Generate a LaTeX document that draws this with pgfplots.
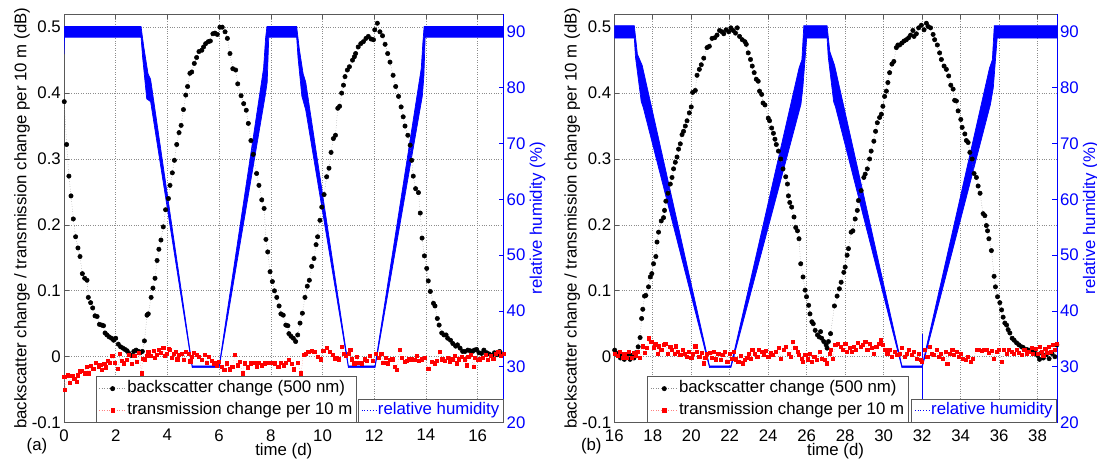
\documentclass[border=0pt]{standalone}
\usepackage{fontspec}
\setmainfont{Liberation Sans}
\usepackage{pgfplots}
\pgfplotsset{compat=1.18}
\newcommand{\fs}{\fontsize{16.8}{20}\selectfont}
\definecolor{hblue}{RGB}{0,0,255}
\pgfplotsset{
  panel/.style={scale only axis, height=408.6pt, anchor=south west,
    /pgf/number format/assume math mode=true,
    tick label style={font=\fs},
    tick align=inside, major tick length=5pt},
  leftax/.style={panel, ymin=-0.1, ymax=0.52},
  rightax/.style={panel, ymin=20, ymax=93.2},
  gridax/.style={leftax, ytick={-0.1,0,0.1,0.2,0.3,0.4,0.5}, yticklabels={-0.1,0,0.1,0.2,0.3,0.4,0.5},
    xtick pos=both, ytick pos=left, grid=major, grid style={dotted, black!45, line width=0.6pt},
    axis line style={black!65, line width=0.6pt}, tick style={black!65, line width=0.6pt},
    xticklabel style={inner sep=0pt, yshift=-6.5pt}, yticklabel style={inner sep=0pt, xshift=-3pt},
    xlabel={time (d)}, ylabel={backscatter change / transmission change per 10 m (dB)},
    every axis x label/.style={at={(axis description cs:0.5,0)}, anchor=base, yshift=-33pt, font=\fs},
    every axis y label/.style={at={(axis description cs:0,0.5)}, anchor=center, rotate=90, yshift=42pt, font=\fs}},
  humax/.style={rightax, axis x line=none, axis y line*=right, ytick={20,30,40,50,60,70,80,90},
    y axis line style={hblue, line width=0.6pt}, ytick style={hblue, line width=0.6pt},
    yticklabel style={text=hblue, inner sep=0pt, xshift=3pt},
    ylabel={relative humidity (\%)},
    every axis y label/.style={at={(axis description cs:1,0.5)}, anchor=center, rotate=90, yshift=-34pt, text=hblue, font=\fs},
    legend style={at={(1,0)}, anchor=south east, draw=black!65, fill=white, font=\fs,
      inner xsep=3pt, inner ysep=3pt, nodes={inner sep=1pt, text height=12pt, text depth=3.5pt, text=hblue}},
    legend cell align=left,
    legend image code/.code={\draw[##1] (0pt,0pt) -- (15pt,0pt);}},
  ptax/.style={leftax, hide axis, clip=false,
    legend style={anchor=south west, draw=black!65, fill=white, font=\fs, row sep=4pt,
      inner xsep=3pt, inner ysep=3.5pt, nodes={inner sep=1pt, text height=12pt, text depth=3.5pt}},
    legend cell align=left,
    legend image code/.code={\draw[mark repeat=2, mark phase=2, ##1] plot coordinates {(0pt,0pt) (13.5pt,0pt) (27pt,0pt)};}},
  bsc/.style={black!45, dotted, line width=0.5pt, mark=*, mark size=2.2pt, mark options={solid, draw=black, fill=black}},
  trn/.style={red!50, dotted, line width=0.5pt, mark=square*, mark size=1.6pt, mark options={solid, draw=red, fill=red}},
  hum/.style={draw=hblue, fill=hblue, line width=0.7pt, forget plot}
}
\begin{document}
\begin{tikzpicture}
\useasboundingbox (-64pt,-36.4pt) rectangle (1033pt,422.6pt);
% ================= panel (a) =================
\begin{axis}[gridax, at={(0pt,0pt)}, width=439.5pt, xmin=0, xmax=17, xtick={0,2,...,16}]
\end{axis}
\begin{axis}[humax, at={(0pt,0pt)}, width=439.5pt, xmin=0, xmax=17]
\addplot[hum] coordinates {
(0,86) (0.02,90.95) (2.98,90.95) (3.08,87.5) (3.25,82.5) (3.35,81.5) (4.96,30.15) (6.0,30.15)
(7.72,83.5) (7.80,89) (7.85,90.95) (9.0,90.95) (9.1,87) (9.25,82.5) (9.35,81) (11.0,30.15) (12.03,30.15)
(13.82,83.5) (13.88,88) (13.93,90.95) (17,90.95)
(17,89.05) (13.97,89.05) (13.92,82) (13.86,78.5) (12.03,29.85) (11.0,29.85) (9.35,76) (9.2,78.5)
(9.05,85.5) (9.0,89.05) (7.92,89.05) (7.86,81) (7.78,78.5) (6.0,29.85) (4.96,29.85) (3.35,77.5)
(3.2,78) (3.04,85.5) (2.98,89.05) (0.02,89.05)
} -- cycle;
\addlegendimage{hblue, dotted, line width=0.8pt}
\addlegendentry{relative humidity}
\end{axis}
\begin{axis}[ptax, at={(0pt,0pt)}, width=439.5pt, xmin=0, xmax=17, legend style={at={(0.0721,0)}}]
\addplot[bsc] coordinates {
(0.01,0.387) (0.10,0.322) (0.19,0.274) (0.27,0.244) (0.36,0.209) (0.45,0.182) (0.54,0.165) (0.62,0.152)
(0.71,0.126) (0.80,0.119) (0.89,0.116) (0.94,0.090) (1.03,0.082) (1.11,0.074) (1.20,0.062) (1.28,0.061)
(1.37,0.049) (1.46,0.048) (1.53,0.047) (1.59,0.036) (1.66,0.033) (1.75,0.030) (1.84,0.028) (1.92,0.025)
(2.00,0.028) (2.10,0.019) (2.19,0.015) (2.28,0.013) (2.36,0.011) (2.44,0.009) (2.51,0.005) (2.60,0.002)
(2.70,0.008) (2.79,0.010) (2.88,0.008) (2.95,0.006) (3.03,0.008) (3.11,0.024) (3.21,0.063) (3.26,0.065)
(3.37,0.090) (3.44,0.104) (3.52,0.119) (3.60,0.146) (3.67,0.163) (3.75,0.177) (3.84,0.197) (3.93,0.223)
(4.04,0.240) (4.10,0.260) (4.19,0.279) (4.27,0.298) (4.36,0.322) (4.45,0.340) (4.53,0.351) (4.62,0.375)
(4.71,0.397) (4.78,0.410) (4.87,0.430) (4.94,0.432) (5.04,0.445) (5.13,0.454) (5.22,0.463) (5.33,0.465)
(5.40,0.470) (5.48,0.475) (5.58,0.478) (5.66,0.479) (5.76,0.490) (5.84,0.491) (5.93,0.489) (6.03,0.500)
(6.12,0.500) (6.23,0.493) (6.32,0.483) (6.42,0.460) (6.53,0.437) (6.64,0.435) (6.72,0.414) (6.85,0.396)
(6.95,0.384) (7.05,0.374) (7.13,0.354) (7.23,0.328) (7.32,0.307) (7.45,0.278) (7.54,0.260) (7.65,0.238)
(7.74,0.225) (7.81,0.178) (7.88,0.159) (7.97,0.129) (8.06,0.114) (8.14,0.100) (8.23,0.090) (8.32,0.077)
(8.39,0.065) (8.48,0.063) (8.58,0.048) (8.66,0.047) (8.70,0.035) (8.78,0.031) (8.87,0.028) (8.96,0.023)
(9.04,0.033) (9.13,0.051) (9.22,0.066) (9.32,0.090) (9.41,0.107) (9.49,0.116) (9.58,0.137) (9.67,0.149)
(9.75,0.170) (9.81,0.182) (9.90,0.207) (9.97,0.227) (10.06,0.246) (10.16,0.273) (10.25,0.286) (10.33,0.310)
(10.42,0.331) (10.50,0.336) (10.59,0.377) (10.66,0.380) (10.74,0.400) (10.81,0.412) (10.87,0.425) (10.96,0.435)
(11.04,0.440) (11.16,0.450) (11.23,0.455) (11.28,0.460) (11.38,0.470) (11.48,0.475) (11.58,0.478) (11.68,0.483)
(11.77,0.486) (11.88,0.482) (11.97,0.481) (12.02,0.496) (12.12,0.506) (12.22,0.493) (12.32,0.487) (12.42,0.474)
(12.52,0.460) (12.61,0.447) (12.73,0.427) (12.83,0.410) (12.94,0.395) (13.04,0.379) (13.12,0.364) (13.19,0.350)
(13.30,0.336) (13.39,0.321) (13.45,0.298) (13.51,0.274) (13.60,0.255) (13.71,0.249) (13.78,0.218) (13.85,0.180)
(13.94,0.153) (14.03,0.134) (14.09,0.115) (14.17,0.099) (14.29,0.081) (14.35,0.077) (14.44,0.058) (14.51,0.048)
(14.61,0.036) (14.70,0.033) (14.78,0.033) (14.84,0.028) (14.95,0.025) (15.04,0.020) (15.15,0.016) (15.22,0.018)
(15.32,0.013) (15.42,0.008) (15.51,0.008) (15.62,0.010) (15.71,0.009) (15.80,0.008) (15.87,0.010) (15.96,0.011)
(16.05,0.006) (16.15,0.005) (16.24,0.010) (16.35,0.006) (16.45,0.004) (16.55,0.002) (16.65,0.006) (16.75,0.003)
(16.85,0.008) (16.95,0.004)
};
\addlegendentry{backscatter change (500 nm)}
\addplot[trn] coordinates {
(0.01,-0.031) (0.04,-0.050) (0.14,-0.028) (0.23,-0.039) (0.32,-0.029) (0.40,-0.033) (0.49,-0.038) (0.53,-0.028)
(0.60,-0.022) (0.68,-0.021) (0.79,-0.025) (0.88,-0.015) (0.94,-0.025) (1.04,-0.014) (1.13,-0.018) (1.23,-0.009)
(1.33,-0.015) (1.40,-0.012) (1.46,-0.020) (1.56,-0.011) (1.62,-0.016) (1.69,-0.006) (1.78,-0.009) (1.87,0.001)
(1.97,-0.009) (2.08,-0.018) (2.17,0.004) (2.23,-0.006) (2.30,-0.010) (2.42,-0.005) (2.51,0.003) (2.62,-0.011)
(2.72,0.001) (2.81,-0.008) (2.90,0.006) (3.00,-0.025) (3.05,-0.003) (3.13,-0.004) (3.20,0.002) (3.26,0.008)
(3.37,0.001) (3.46,0.009) (3.52,-0.002) (3.58,0.003) (3.66,0.010) (3.75,0.006) (3.84,0.013) (3.90,0.002)
(3.97,0.004) (4.04,0.012) (4.10,0.010) (4.17,-0.002) (4.23,0.005) (4.32,0.008) (4.38,-0.004) (4.45,0.003)
(4.55,0.005) (4.62,-0.005) (4.71,0.008) (4.81,0.005) (4.88,-0.007) (4.94,0.000) (5.03,0.006) (5.13,0.003)
(5.22,0.000) (5.32,-0.005) (5.43,0.003) (5.52,-0.009) (5.61,0.000) (5.71,-0.006) (5.81,-0.010) (5.91,-0.013)
(6.00,-0.008) (6.10,-0.015) (6.20,-0.020) (6.29,-0.010) (6.42,-0.019) (6.51,-0.015) (6.62,0.003) (6.72,-0.013)
(6.81,-0.008) (6.90,-0.025) (7.00,-0.010) (7.10,-0.016) (7.23,-0.010) (7.36,-0.009) (7.45,-0.015) (7.54,-0.009)
(7.65,-0.013) (7.78,-0.010) (7.88,-0.009) (8.03,-0.009) (8.16,-0.010) (8.29,-0.015) (8.39,-0.009) (8.49,-0.013)
(8.58,-0.009) (8.68,-0.005) (8.81,-0.011) (8.90,-0.019) (9.04,-0.009) (9.17,-0.025) (9.26,0.003) (9.35,0.005)
(9.45,0.008) (9.58,0.009) (9.68,0.008) (9.83,0.000) (9.94,-0.004) (10.03,0.009) (10.16,0.013) (10.27,0.008)
(10.38,0.003) (10.48,-0.003) (10.55,-0.001) (10.64,-0.004) (10.74,0.015) (10.81,0.005) (10.90,0.001) (11.00,0.005)
(11.07,0.010) (11.13,-0.004) (11.23,-0.010) (11.32,0.000) (11.39,-0.009) (11.52,-0.010) (11.62,-0.004) (11.71,-0.006)
(11.84,0.001) (11.93,-0.006) (12.06,0.005) (12.16,-0.001) (12.27,0.005) (12.35,-0.009) (12.45,-0.001) (12.53,-0.010)
(12.61,-0.005) (12.70,-0.004) (12.80,-0.015) (12.87,-0.020) (13.00,0.011) (13.06,-0.001) (13.17,-0.008) (13.26,-0.006)
(13.35,-0.004) (13.45,-0.004) (13.55,-0.005) (13.64,0.001) (13.73,-0.006) (13.84,-0.004) (13.94,-0.001) (14.09,-0.018)
(14.22,-0.008) (14.33,-0.010) (14.42,-0.006) (14.54,0.008) (14.63,-0.004) (14.74,-0.006) (14.84,-0.001) (14.93,-0.008)
(15.02,-0.004) (15.10,0.001) (15.19,-0.010) (15.28,-0.004) (15.38,0.000) (15.49,-0.004) (15.58,-0.013) (15.64,0.000)
(15.74,0.003) (15.84,-0.015) (15.90,-0.001) (16.00,-0.005) (16.09,-0.004) (16.20,-0.002) (16.30,0.003) (16.40,-0.005)
(16.50,0.002) (16.60,-0.003) (16.70,0.005) (16.80,0.008) (16.90,0.002) (17.00,0.005)
};
\addlegendentry{transmission change per 10 m}
\end{axis}
% ================= panel (b) =================
\begin{axis}[gridax, at={(550.3pt,0pt)}, width=442.5pt, xmin=16, xmax=39, xtick={16,18,...,38}]
\end{axis}
\begin{axis}[humax, at={(550.3pt,0pt)}, width=442.5pt, xmin=16, xmax=39]
\addplot[hum] coordinates {
(16,91.1) (17.04,91.1) (17.2,86) (17.45,84) (20.95,30.15) (22.06,30.15) (25.6,83.5) (25.75,85) (25.85,91.1)
(27.06,91.1) (27.2,86.5) (27.45,84) (30.95,30.15) (32.0,30.15) (35.5,83.5) (35.65,85) (35.75,91.1) (39,91.1)
(39,88.9) (35.9,88.9) (35.7,80) (35.55,77) (32.0,29.85) (30.95,29.85) (27.5,76.5) (27.4,77.5) (27.12,85.5)
(27.06,88.9) (26.0,88.9) (25.8,80) (25.7,77) (22.06,29.85) (20.95,29.85) (17.5,76.5) (17.4,77.5) (17.1,85.5)
(17.04,88.9) (16,88.9)
} -- cycle;
\addplot[hblue, line width=0.5pt, forget plot] coordinates {(32.0,24.3) (32.0,35.8)};
\addlegendimage{hblue, dotted, line width=0.8pt}
\addlegendentry{relative humidity}
\end{axis}
\begin{axis}[ptax, at={(550.3pt,0pt)}, width=442.5pt, xmin=16, xmax=39, legend style={at={(0.0746,0)}}]
\addplot[bsc] coordinates {
(16.02,0.010) (16.12,0.005) (16.22,0.003) (16.32,-0.002) (16.42,0.002) (16.52,-0.004) (16.62,-0.001) (16.72,0.004)
(16.82,-0.004) (16.92,0.002) (17.02,-0.002) (17.12,0.006) (17.24,0.015) (17.34,0.029) (17.42,0.058) (17.48,0.072)
(17.57,0.092) (17.64,0.093) (17.78,0.106) (17.87,0.121) (17.95,0.126) (18.04,0.141) (18.16,0.152) (18.22,0.174)
(18.30,0.189) (18.44,0.206) (18.56,0.211) (18.61,0.222) (18.68,0.236) (18.79,0.248) (18.91,0.262) (19.00,0.272)
(19.08,0.285) (19.17,0.295) (19.26,0.303) (19.34,0.315) (19.43,0.323) (19.52,0.337) (19.60,0.342) (19.69,0.350)
(19.78,0.358) (19.90,0.370) (20.00,0.379) (20.07,0.401) (20.21,0.404) (20.30,0.427) (20.42,0.436) (20.52,0.443)
(20.65,0.453) (20.82,0.469) (20.94,0.471) (21.08,0.483) (21.22,0.484) (21.34,0.488) (21.47,0.495) (21.60,0.493)
(21.69,0.490) (21.81,0.496) (21.95,0.493) (22.06,0.499) (22.18,0.495) (22.30,0.491) (22.39,0.499) (22.51,0.486)
(22.65,0.481) (22.79,0.478) (22.86,0.474) (22.96,0.461) (23.08,0.451) (23.17,0.441) (23.27,0.431) (23.38,0.421)
(23.48,0.418) (23.55,0.403) (23.66,0.398) (23.73,0.385) (23.83,0.382) (24.00,0.362) (24.07,0.358) (24.18,0.347)
(24.27,0.339) (24.35,0.330) (24.42,0.322) (24.53,0.312) (24.65,0.300) (24.77,0.285) (24.91,0.273) (25.00,0.262)
(25.05,0.244) (25.12,0.234) (25.22,0.227) (25.34,0.212) (25.43,0.196) (25.52,0.191) (25.60,0.179) (25.69,0.141)
(25.81,0.121) (25.92,0.101) (25.99,0.091) (26.10,0.078) (26.17,0.065) (26.27,0.053) (26.34,0.050) (26.44,0.040)
(26.56,0.033) (26.65,0.030) (26.72,0.038) (26.78,0.028) (26.89,0.023) (27.01,0.018) (27.06,0.013) (27.13,0.023)
(27.24,0.035) (27.44,0.077) (27.58,0.092) (27.70,0.103) (27.79,0.113) (27.93,0.128) (28.00,0.136) (28.10,0.154)
(28.17,0.164) (28.31,0.189) (28.40,0.191) (28.52,0.209) (28.63,0.222) (28.69,0.237) (28.83,0.252) (28.97,0.272)
(29.04,0.277) (29.15,0.285) (29.27,0.300) (29.35,0.312) (29.49,0.327) (29.58,0.342) (29.67,0.355) (29.79,0.363)
(29.88,0.368) (29.96,0.380) (30.05,0.395) (30.14,0.403) (30.22,0.416) (30.31,0.431) (30.43,0.444) (30.53,0.448)
(30.66,0.469) (30.74,0.473) (30.83,0.473) (30.95,0.476) (31.06,0.479) (31.18,0.481) (31.30,0.484) (31.40,0.488)
(31.52,0.495) (31.58,0.486) (31.70,0.490) (31.82,0.499) (31.96,0.503) (32.10,0.496) (32.22,0.506) (32.31,0.501)
(32.44,0.499) (32.57,0.489) (32.65,0.481) (32.79,0.473) (32.91,0.461) (33.00,0.451) (33.14,0.441) (33.26,0.436)
(33.38,0.426) (33.49,0.412) (33.61,0.406) (33.69,0.389) (33.78,0.388) (33.87,0.373) (34.01,0.360) (34.08,0.348)
(34.22,0.338) (34.30,0.328) (34.39,0.325) (34.48,0.310) (34.60,0.300) (34.70,0.278) (34.82,0.272) (34.91,0.259)
(35.01,0.248) (35.17,0.217) (35.26,0.214) (35.34,0.199) (35.40,0.191) (35.47,0.179) (35.60,0.161) (35.74,0.122)
(35.81,0.106) (35.92,0.091) (36.04,0.082) (36.13,0.071) (36.21,0.060) (36.30,0.051) (36.39,0.048) (36.47,0.041)
(36.56,0.036) (36.68,0.028) (36.78,0.025) (36.91,0.021) (37.03,0.018) (37.17,0.015) (37.25,0.014) (37.43,0.011)
(37.55,0.010) (37.69,0.008) (37.77,0.009) (37.90,0.005) (38.00,0.002) (38.10,-0.004) (38.20,0.006) (38.30,-0.002)
(38.45,0.003) (38.60,-0.003) (38.75,0.005) (38.90,0.000) (39.00,0.018)
};
\addlegendentry{backscatter change (500 nm)}
\addplot[trn] coordinates {
(16.04,0.005) (16.18,0.001) (16.30,0.008) (16.42,-0.001) (16.52,0.005) (16.65,-0.001) (16.77,0.008) (16.91,-0.002)
(17.00,0.006) (17.11,0.001) (17.22,0.008) (17.34,-0.002) (17.46,0.016) (17.57,0.006) (17.69,0.013) (17.81,0.028)
(17.92,0.023) (18.04,0.013) (18.13,0.019) (18.27,0.005) (18.33,0.016) (18.44,0.010) (18.56,0.018) (18.65,0.020)
(18.79,0.005) (18.91,0.015) (19.00,0.010) (19.14,0.005) (19.21,0.016) (19.31,0.008) (19.43,0.003) (19.55,0.010)
(19.66,0.005) (19.78,0.000) (19.87,0.008) (20.00,-0.001) (20.07,0.005) (20.21,0.016) (20.30,0.008) (20.42,0.000)
(20.53,0.006) (20.64,-0.010) (20.73,-0.001) (20.82,0.005) (20.94,0.006) (21.05,-0.001) (21.17,0.008) (21.29,-0.004)
(21.40,0.005) (21.52,-0.005) (21.64,0.003) (21.74,0.008) (21.87,-0.008) (21.99,0.005) (22.09,-0.003) (22.21,0.008)
(22.33,-0.004) (22.44,-0.008) (22.56,0.001) (22.68,-0.010) (22.79,-0.005) (22.91,-0.001) (23.00,0.005) (23.08,-0.003)
(23.17,0.010) (23.31,0.005) (23.43,0.000) (23.52,0.010) (23.66,0.008) (23.78,0.003) (23.87,0.009) (24.00,0.000)
(24.13,0.006) (24.21,0.003) (24.39,0.008) (24.56,0.013) (24.65,-0.003) (24.82,0.010) (24.91,0.015) (25.05,0.005)
(25.17,0.000) (25.26,0.023) (25.40,0.013) (25.52,0.008) (25.60,0.003) (25.74,-0.003) (25.81,-0.008) (25.92,0.003)
(26.04,-0.004) (26.16,0.005) (26.27,-0.008) (26.39,0.000) (26.51,-0.005) (26.66,0.008) (26.78,-0.003) (26.92,-0.005)
(27.06,-0.010) (27.18,0.005) (27.27,0.010) (27.36,-0.003) (27.48,0.018) (27.62,0.020) (27.76,0.015) (27.88,0.010)
(28.00,0.020) (28.10,0.008) (28.23,0.013) (28.35,0.008) (28.45,0.015) (28.57,0.010) (28.66,0.021) (28.80,0.015)
(28.92,0.018) (29.04,0.023) (29.15,0.010) (29.27,0.020) (29.39,0.013) (29.49,0.005) (29.61,0.015) (29.74,0.020)
(29.84,0.025) (29.96,0.018) (30.08,0.010) (30.19,0.005) (30.31,0.010) (30.43,0.000) (30.57,0.008) (30.71,0.003)
(30.83,0.005) (30.95,0.013) (31.09,0.000) (31.18,0.005) (31.30,0.010) (31.44,0.003) (31.58,0.008) (31.70,-0.003)
(31.82,0.005) (31.92,-0.005) (31.99,-0.008) (32.13,0.010) (32.27,0.000) (32.39,0.015) (32.51,0.005) (32.62,0.003)
(32.74,0.010) (32.86,0.000) (32.97,0.005) (33.09,-0.003) (33.21,0.008) (33.31,-0.011) (33.43,0.005) (33.56,0.010)
(33.66,0.003) (33.78,0.008) (33.90,0.000) (34.01,0.005) (34.13,-0.003) (34.25,-0.005) (34.39,0.000) (34.53,-0.008)
(34.65,-0.003) (34.82,0.010) (34.94,0.010) (35.08,0.009) (35.22,0.011) (35.34,0.010) (35.47,0.006) (35.60,0.009)
(35.74,-0.003) (35.86,0.008) (35.99,0.010) (36.13,-0.008) (36.26,0.010) (36.39,0.005) (36.51,0.011) (36.65,0.008)
(36.78,0.005) (36.91,0.011) (37.03,0.006) (37.17,0.003) (37.31,0.010) (37.43,0.005) (37.55,0.008) (37.69,0.013)
(37.77,0.005) (37.90,0.012) (38.00,0.004) (38.10,0.015) (38.20,0.008) (38.30,0.002) (38.40,0.012) (38.50,0.006)
(38.60,0.015) (38.70,0.008) (38.80,0.018) (38.90,0.010) (39.00,0.020)
};
\addlegendentry{transmission change per 10 m}
\end{axis}
\node[font=\fs] at (-27pt,-24pt) {(a)};
\node[font=\fs] at (527.3pt,-24pt) {(b)};
\end{tikzpicture}
\end{document}
